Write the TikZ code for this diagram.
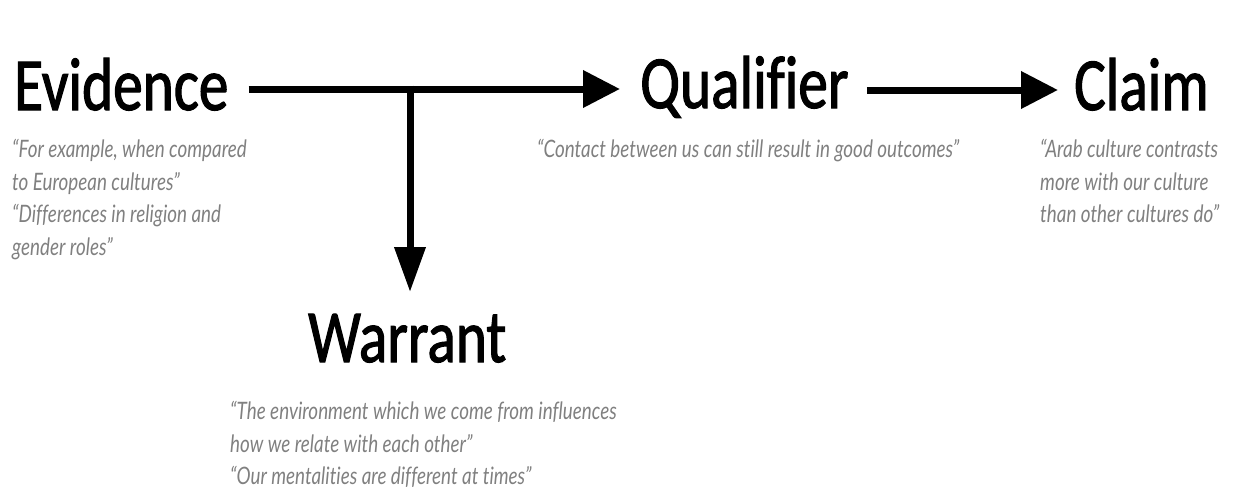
\documentclass[tikz,border=0pt]{standalone}
\usepackage{fontspec}
\usetikzlibrary{arrows.meta}
\newfontfamily\headfont{Carlito}[FakeStretch=0.79,FakeBold=1.5,Ligatures=NoCommon]
\newfontfamily\quotefont{Lato}[FakeStretch=0.785,Ligatures=NoCommon]
\definecolor{quotegrey}{HTML}{808080}
\begin{document}
\begin{tikzpicture}[x=1pt,y=-1pt,
  head/.style={font=\headfont\fontsize{75}{75}\selectfont, inner sep=0pt, anchor=base west},
  quote/.style={font=\quotefont\itshape\fontsize{24}{32.5}\selectfont, text=quotegrey,
    inner sep=0pt, anchor=north west, align=left},
  link/.style={line width=7pt, -{Triangle[length=37pt,width=36pt]}},
  drop/.style={line width=7pt, -{Triangle[length=45pt,width=30pt]}}]
  \useasboundingbox (0,0) rectangle (1236,487);
  % headings
  \node[head] (ev) at (14,110) {Evidence};
  \node[head] (qu) at (640,108) {Qualifier};
  \node[head] (cl) at (1074,110) {Claim};
  \node[head] (wa) at (308,362) {Warrant};
  % quotations under each heading
  \node[quote] (evq) at (12,139) {“For example, when compared\\to European cultures”\\“Differences in religion and\\gender roles”};
  \node[quote] (quq) at (537,139) {“Contact between us can still result in good outcomes”};
  \node[quote] (clq) at (1040,139) {“Arab culture contrasts\\more with our culture\\than other cultures do”};
  \node[quote] (waq) at (230,401) {“The environment which we come from influences\\how we relate with each other”\\“Our mentalities are different at times”};
  % connectors
  \coordinate (j) at (410,89);
  \coordinate (k) at (410,90);
  \coordinate (wtip) at (410,292);
  \draw[link] ([xshift=20pt]ev.east |- j) -- ([xshift=-20pt]qu.west |- j);
  \draw[link] ([xshift=18pt]qu.east |- k) -- ([xshift=-16pt]cl.west |- k);
  \draw[drop] ([yshift=3.5pt]j) -- (wtip);
\end{tikzpicture}
\end{document}
